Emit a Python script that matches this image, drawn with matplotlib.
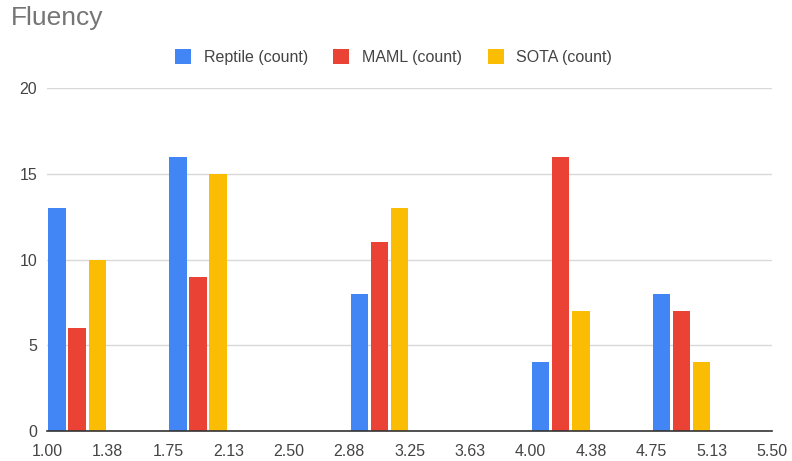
import matplotlib
matplotlib.use('Agg')
import matplotlib.pyplot as plt
import numpy as np

# Data
group_starts = [1.00, 1.75, 2.875, 4.00, 4.75]
reptile = [13, 16, 8, 4, 8]
maml = [6, 9, 11, 16, 7]
sota = [10, 15, 13, 7, 4]
series_names = ['Reptile (count)', 'MAML (count)', 'SOTA (count)']
x_ticks = [1.00, 1.375, 1.75, 2.125, 2.50, 2.875, 3.25, 3.625, 4.00, 4.375, 4.75, 5.125, 5.50]
x_tick_labels = ['1.00', '1.38', '1.75', '2.13', '2.50', '2.88', '3.25', '3.63',
                 '4.00', '4.38', '4.75', '5.13', '5.50']
y_ticks = [0, 5, 10, 15, 20]

COLORS = ['#4285F4', '#EA4335', '#FBBC04']
TEXT_COLOR = '#444444'
TITLE_COLOR = '#757575'
GRID_COLOR = '#D9D9D9'
FONT = ['Liberation Sans', 'DejaVu Sans']

plt.rcParams['font.family'] = FONT

fig = plt.figure(figsize=(7.92, 4.61), dpi=100)
ax = fig.add_axes([0.0593, 0.065, 0.9157, 0.744])

starts = np.array(group_starts)
bar_w = 0.108
for k, (vals, color, name) in enumerate(zip([reptile, maml, sota], COLORS, series_names)):
    ax.bar(starts + 0.0625 + k * 0.125, vals, width=bar_w, color=color,
           label=name, linewidth=0, zorder=3)

ax.set_xlim(1.0, 5.5)
ax.set_ylim(0, 20)
ax.set_xticks(x_ticks)
ax.set_xticklabels(x_tick_labels)
ax.set_yticks(y_ticks)
ax.tick_params(axis='both', length=0, labelsize=11.5, colors=TEXT_COLOR)
ax.tick_params(axis='x', pad=9)
ax.tick_params(axis='y', pad=7)

ax.yaxis.grid(True, color=GRID_COLOR, linewidth=1, zorder=0)
for side in ['top', 'right', 'left']:
    ax.spines[side].set_visible(False)
ax.spines['bottom'].set_color('#333333')
ax.spines['bottom'].set_linewidth(1.2)
ax.spines['bottom'].set_zorder(4)

fig.text(0.014, 0.962, 'Fluency', color=TITLE_COLOR, fontsize=19,
         ha='left', va='center')

fig.legend(loc='center', bbox_to_anchor=(0.497, 0.876), ncol=3, frameon=False,
           fontsize=11.5, handlelength=1.0, handleheight=1.0, handletextpad=0.8,
           columnspacing=1.6, labelcolor=TEXT_COLOR)

fig.savefig('out.png', dpi=100, facecolor='white')
